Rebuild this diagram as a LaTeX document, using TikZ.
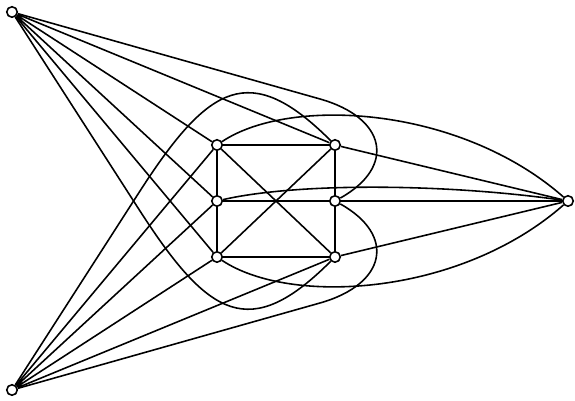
\documentclass[tikz,border=0pt]{standalone}
\usetikzlibrary{positioning}
\tikzset{
vertex/.style={draw,circle,fill=white,inner sep=0pt,minimum size=0.21cm,line width=0.9pt},
edge/.style={line width=0.9pt,line join=round}
}

\begin{document}
\begin{tikzpicture}[x=0.02cm,y=0.02cm]
\useasboundingbox (0,0) rectangle (575,401);
% outer vertices
\node[vertex] (a) at (12,389) {};
\node[vertex] (b) at (12,11) {};
\node[vertex] (c) at (568,200) {};
% inner vertices
\node[vertex] (u1) at (217,256) {};
\node[vertex] (u2) at (217,200) {};
\node[vertex] (u3) at (217,144) {};
\node[vertex] (v1) at (335,256) {};
\node[vertex] (v2) at (335,200) {};
\node[vertex] (v3) at (335,144) {};
% bends of the long arcs
\coordinate (av2) at (320,302);
\coordinate (bv2) at (320,98);
\coordinate (av3) at (140,190);
\coordinate (bv1) at (140,210);
% straight edges to the outer vertices
\draw[edge] (a) -- (u1) (a) -- (u2) (a) -- (u3) (a) -- (v1);
\draw[edge] (b) -- (u1) (b) -- (u2) (b) -- (u3) (b) -- (v3);
\draw[edge] (c) -- (v1) (c) -- (v2) (c) -- (v3);
% curved edges to c
\draw[edge] (u1) .. controls (290,305) and (460,295) .. (c);
\draw[edge] (u2) .. controls (300,219) and (450,217) .. (c);
\draw[edge] (u3) .. controls (290,95) and (460,105) .. (c);
% arcs round the inner block
\draw[edge] (a) -- (av2) .. controls (387,283) and (396,234) .. (v2);
\draw[edge] (b) -- (bv2) .. controls (387,117) and (396,166) .. (v2);
\draw[edge] (a) -- (av3) .. controls (209,83) and (250,59) .. (v3);
\draw[edge] (b) -- (bv1) .. controls (209,317) and (250,341) .. (v1);
% inner block
\draw[edge] (u1) -- (v1) (u2) -- (v2) (u3) -- (v3);
\draw[edge] (u1) -- (u2) -- (u3) (v1) -- (v2) -- (v3);
\draw[edge] (u1) -- (v3) (u3) -- (v1);
\end{tikzpicture}
\end{document}
